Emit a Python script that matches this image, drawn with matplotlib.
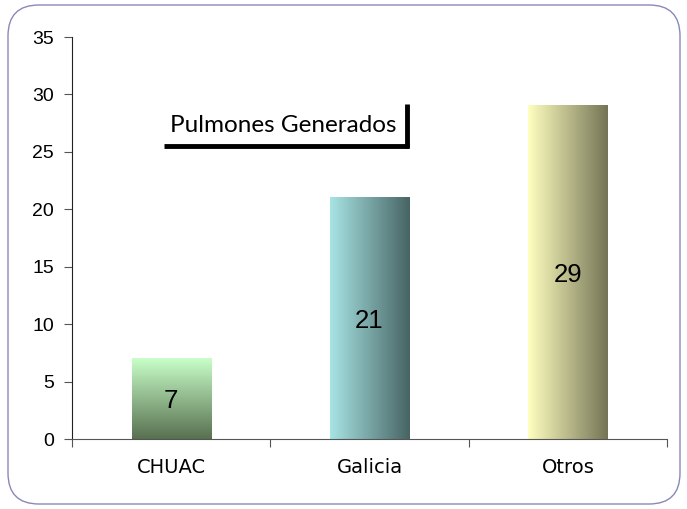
import numpy as np
import matplotlib.pyplot as plt
from matplotlib.patches import FancyBboxPatch
from matplotlib.lines import Line2D
from matplotlib.colors import LinearSegmentedColormap

categories = ["CHUAC", "Galicia", "Otros"]
values = [7, 21, 29]
title_text = "Pulmones Generados"

# gradient colours: (start, end, direction)
grads = [("#c8ffc8", "#587050", "v"),
         ("#a8e4e4", "#486464", "h"),
         ("#ffffc0", "#747456", "h")]

fig = plt.figure(figsize=(6.87, 5.09), dpi=100)
ax = fig.add_axes([72 / 687, 70 / 509, 595 / 687, 402 / 509])

x = np.arange(len(categories))
bars = ax.bar(x, values, width=0.4, color="none", edgecolor="none", zorder=2)

for rect, (c0, c1, d) in zip(bars, grads):
    cmap = LinearSegmentedColormap.from_list("g", [c0, c1])
    if d == "h":
        img = np.linspace(0, 1, 256).reshape(1, -1)
    else:
        img = np.linspace(0, 1, 256).reshape(-1, 1)
    x0, y0 = rect.get_x(), rect.get_y()
    w, h = rect.get_width(), rect.get_height()
    ax.imshow(img, cmap=cmap, aspect="auto", extent=[x0, x0 + w, y0, y0 + h],
              origin="upper", zorder=2)

for xi, v in zip(x, values):
    ax.text(xi, v / 2, str(v), ha="center", va="center_baseline", fontsize=18.5,
            family="Liberation Sans", zorder=3)

ax.set_xlim(-0.5, len(categories) - 0.5)
ax.set_ylim(0, 35)
ax.set_yticks(range(0, 36, 5))
ax.set_xticks(np.arange(-0.5, len(categories), 1))
ax.set_xticklabels([])
ax.set_xticks(x, minor=True)
ax.set_xticklabels(categories, minor=True, fontsize=14, family="DejaVu Sans")
ax.tick_params(axis="x", which="minor", length=0, pad=14)
ax.tick_params(axis="x", which="major", length=6, direction="out", color="#555555")
ax.tick_params(axis="y", length=6, direction="out", labelsize=14, pad=7, color="#555555")
for lab in ax.get_yticklabels():
    lab.set_family("Liberation Sans")

for s in ["top", "right"]:
    ax.spines[s].set_visible(False)
ax.spines["left"].set_color("#222222")
ax.spines["bottom"].set_color("#555555")

# title box with shadow
fig.text(283 / 687, 1 - 125 / 509, title_text, ha="center", va="center",
         fontsize=17.5, family="Lato")
fig.add_artist(Line2D([164 / 687, 409 / 687], [1 - 146 / 509, 1 - 146 / 509],
                      color="black", lw=3.5, solid_capstyle="butt",
                      transform=fig.transFigure))
fig.add_artist(Line2D([407 / 687, 407 / 687], [1 - 104 / 509, 1 - 147.5 / 509],
                      color="black", lw=3.5, solid_capstyle="butt",
                      transform=fig.transFigure))

# rounded border
border = FancyBboxPatch((8 / 687, 5 / 509), 672 / 687, 499 / 509,
                        boxstyle="round,pad=0,rounding_size=0.045",
                        transform=fig.transFigure, fill=False,
                        edgecolor="#8a88b8", lw=1.0, mutation_aspect=687 / 509)
fig.add_artist(border)

fig.savefig("out.png", dpi=100)
